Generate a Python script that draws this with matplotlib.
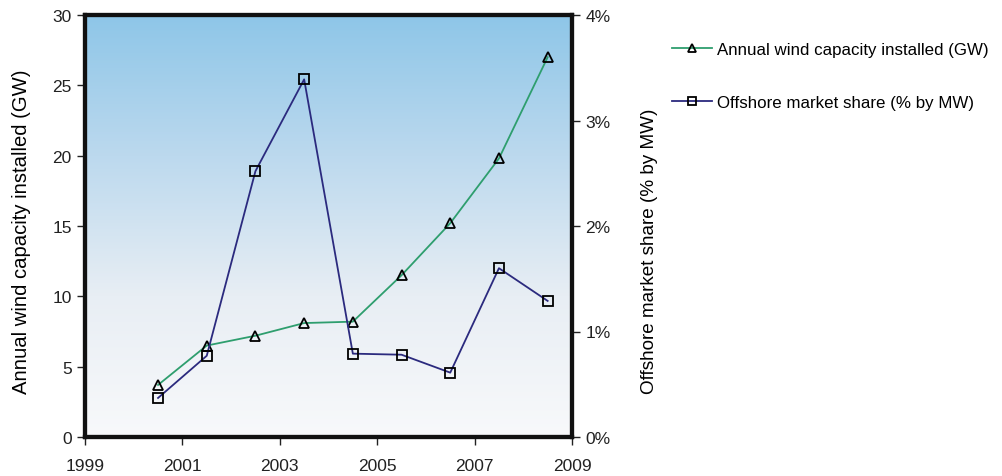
import matplotlib
matplotlib.use("Agg")
import matplotlib.pyplot as plt
import numpy as np
from matplotlib.colors import LinearSegmentedColormap
from matplotlib.ticker import FuncFormatter

plt.rcParams['font.family'] = ['Liberation Sans', 'DejaVu Sans']

years = [2000.5, 2001.5, 2002.5, 2003.5, 2004.5, 2005.5, 2006.5, 2007.5, 2008.5]
capacity_gw = [3.7, 6.5, 7.2, 8.1, 8.2, 11.5, 15.2, 19.8, 27.0]
offshore_share = [0.37, 0.77, 2.52, 3.39, 0.79, 0.78, 0.61, 1.60, 1.29]
x_ticks = [1999, 2001, 2003, 2005, 2007, 2009]
left_ticks = [0, 5, 10, 15, 20, 25, 30]
right_ticks = [0, 1, 2, 3, 4]

green = '#2E9E6E'
navy = '#2B2A7E'
spine_col = '#111111'

fig = plt.figure(figsize=(10.03, 4.77), dpi=100)
ax = fig.add_axes([85/1003, 39/477, 487/1003, 422/477])

grad = np.linspace(0, 1, 256).reshape(-1, 1)
cmap = LinearSegmentedColormap.from_list('bg', ['#F8F9FB', '#E8EEF4', '#BCD9EE', '#8EC6E8'])
ax.imshow(grad, extent=[0, 1, 0, 1], transform=ax.transAxes, origin='lower',
          cmap=cmap, aspect='auto', zorder=0)

ax.plot(years, capacity_gw, color=green, lw=1.3, marker='^', ms=7,
        mfc='none', mec='black', mew=1.3, zorder=3,
        label='Annual wind capacity installed (GW)')
ax.set_xlim(1999, 2009)
ax.set_ylim(0, 30)
ax.set_xticks(x_ticks)
ax.set_yticks(left_ticks)
ax.set_ylabel('Annual wind capacity installed (GW)', fontsize=14.6)
ax.yaxis.set_label_coords(-0.111, 0.488)

ax2 = ax.twinx()
ax2.plot(years, offshore_share, color=navy, lw=1.3, marker='s', ms=7,
         mfc='none', mec='black', mew=1.3, zorder=3,
         label='Offshore market share (% by MW)')
ax2.set_ylim(0, 4)
ax2.set_yticks(right_ticks)
ax2.yaxis.set_major_formatter(FuncFormatter(lambda v, p: f'{int(v)}%'))
ax2.set_ylabel('Offshore market share (% by MW)', fontsize=13.6)
ax2.yaxis.set_label_coords(1.1407, 0.443)

for a in (ax, ax2):
    for s in a.spines.values():
        s.set_linewidth(3)
        s.set_color(spine_col)
    a.tick_params(direction='out', length=6, width=1, labelsize=12.5, colors='#222222')
ax.tick_params(axis='x', pad=9)

h1, l1 = ax.get_legend_handles_labels()
h2, l2 = ax2.get_legend_handles_labels()
fig.legend(h1 + h2, l1 + l2, loc='upper left', bbox_to_anchor=(657/1003, 1 - 28/477),
           frameon=False, fontsize=12.2, handlelength=2.35, labelspacing=2.25,
           handletextpad=0.3, markerscale=0.8)

fig.savefig('out.png', dpi=100)
